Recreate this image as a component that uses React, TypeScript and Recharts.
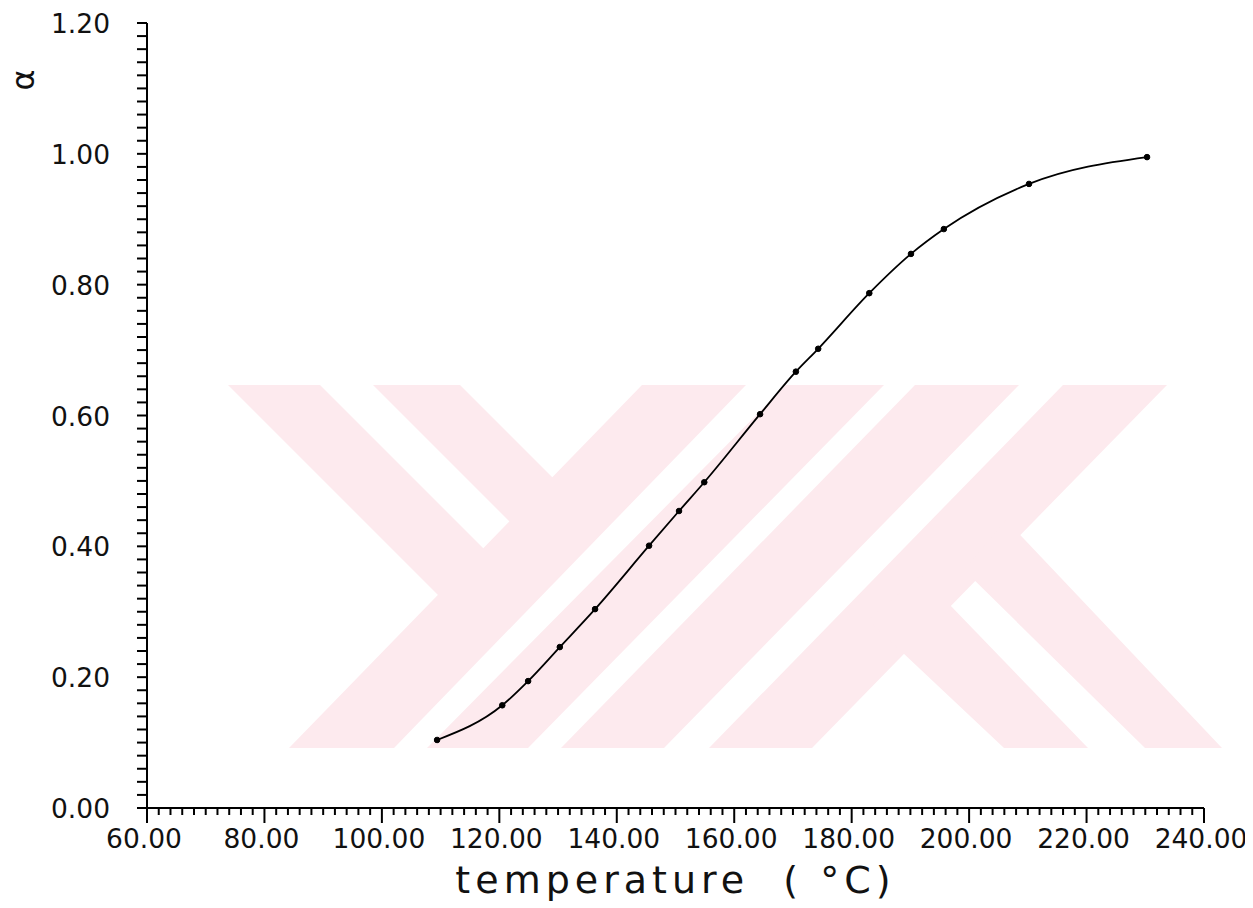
import React from 'react';
import { LineChart, Line, XAxis, YAxis } from 'recharts';

// ---- data ----
const temperature = [109.4, 120.5, 124.9, 130.3, 136.3, 145.5, 150.6, 154.9, 164.4, 170.5, 174.3, 183.0, 190.1, 195.7, 210.2, 230.3];
const alpha = [0.104, 0.157, 0.194, 0.246, 0.304, 0.401, 0.454, 0.498, 0.602, 0.667, 0.702, 0.787, 0.847, 0.885, 0.954, 0.995];

const xMajorTicks = [60, 80, 100, 120, 140, 160, 180, 200, 220, 240];
const yMajorTicks = [0, 0.2, 0.4, 0.6, 0.8, 1.0, 1.2];
const MINOR_DIVISIONS = 10;

const xLabel = 'temperature\u00a0\u00a0(\u00a0°C)';
const yLabel = 'α';

function withMinor(major: number[]): number[] {
  const out: number[] = [];
  for (let i = 0; i < major.length - 1; i++) {
    const step = (major[i + 1] - major[i]) / MINOR_DIVISIONS;
    for (let k = 0; k < MINOR_DIVISIONS; k++) out.push(+(major[i] + k * step).toFixed(4));
  }
  out.push(major[major.length - 1]);
  return out;
}
const isMajor = (v: number, majors: number[]) => majors.some((m) => Math.abs(m - v) < 1e-6);

const xTicks = withMinor(xMajorTicks);
const yTicks = withMinor(yMajorTicks);

const data = temperature.map((t, i) => ({ t, a: alpha[i] }));

const FONT = '"DejaVu Sans", "Liberation Sans", sans-serif';
const INK = '#111';

const XTick = (props: any) => {
  const { x, y, payload } = props;
  const v = payload.value as number;
  const major = isMajor(v, xMajorTicks);
  return (
    <g>
      <line x1={x} y1={y} x2={x} y2={y + (major ? 15 : 7)} stroke="#000" strokeWidth={2} />
      {major && (
        <text x={x - 3} y={y + 40} textAnchor="middle" fontFamily={FONT} fontSize={26.5} fill={INK}>
          {v.toFixed(2)}
        </text>
      )}
    </g>
  );
};

const YTick = (props: any) => {
  const { x, y, payload } = props;
  const v = payload.value as number;
  const major = isMajor(v, yMajorTicks);
  return (
    <g>
      <line x1={x - 10} y1={y} x2={x} y2={y} stroke="#000" strokeWidth={2} />
      {major && (
        <text x={x - 37} y={y + 10} textAnchor="end" fontFamily={FONT} fontSize={26.5} fill={INK}>
          {v.toFixed(2)}
        </text>
      )}
    </g>
  );
};

// decorative background watermark (page coordinates)
const PINK = '#fdeaee';
const watermark: string[] = [
  '228,385 320,385 500,565 453,610',
  '373,385 460,385 570,495 528,540',
  '642,385 746,385 394,748 289,748',
  '786,385 884,385 528,748 427,748',
  '915,385 1019,385 664,748 561,748',
  '1063,385 1167,385 812,748 709,748',
  '868,620 921,575 1088,748 1004,748',
  '1006,520 1222,748 1145,748 964,570',
];

const W = 1245;
const H = 900;

export default function App() {
  return (
    <div style={{ position: 'relative', width: W, height: H }}>
      <svg width={W} height={H} style={{ position: 'absolute', left: 0, top: 0 }}>
        <g transform="translate(-8,-8)">
          {watermark.map((p, i) => (
            <polygon key={i} points={p} fill={PINK} />
          ))}
        </g>
      </svg>
      <div style={{ position: 'absolute', left: 0, top: 0 }}>
        <LineChart width={W} height={H} data={data} margin={{ top: 15, right: 49, bottom: 0, left: 0 }}>
          <XAxis
            dataKey="t"
            type="number"
            domain={[60, 240]}
            ticks={xTicks}
            interval={0}
            tickSize={0}
            tickMargin={0}
            tickLine={false}
            tick={<XTick />}
            height={100}
            axisLine={{ stroke: '#000', strokeWidth: 2 }}
            allowDataOverflow
            label={{
              value: xLabel,
              position: 'insideBottom',
              offset: 15,
              fontSize: 38,
              fontFamily: FONT,
              letterSpacing: 5,
              fill: INK,
            }}
          />
          <YAxis
            type="number"
            domain={[0, 1.2]}
            ticks={yTicks}
            interval={0}
            tickSize={0}
            tickMargin={0}
            tickLine={false}
            tick={<YTick />}
            width={139}
            axisLine={{ stroke: '#000', strokeWidth: 2 }}
            allowDataOverflow
            label={{
              content: (p: any) => {
                const vb = p.viewBox || { x: 0, y: 15 };
                const cx = vb.x + 26;
                const cy = vb.y + 57;
                return (
                  <text
                    x={cx}
                    y={cy}
                    transform={`rotate(-90 ${cx} ${cy})`}
                    textAnchor="middle"
                    fontFamily={FONT}
                    fontSize={32}
                    fill={INK}
                  >
                    {yLabel}
                  </text>
                );
              },
            }}
          />
          <Line
            dataKey="a"
            type="monotone"
            stroke="#000"
            strokeWidth={1.8}
            dot={{ r: 2.8, fill: '#000', stroke: '#000', strokeWidth: 1 }}
            isAnimationActive={false}
          />
        </LineChart>
      </div>
    </div>
  );
}
